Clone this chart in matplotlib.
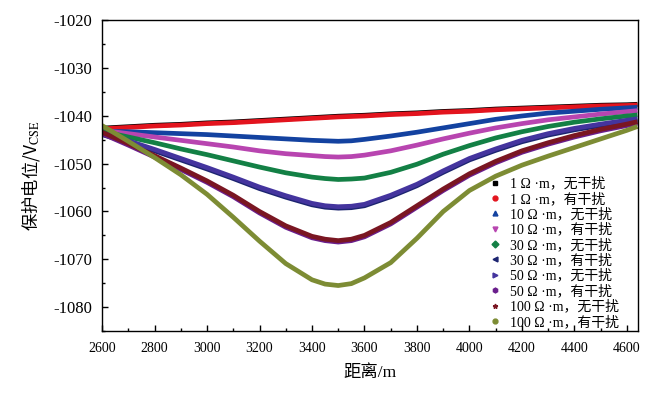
import matplotlib
matplotlib.use("Agg")
import matplotlib.pyplot as plt
import matplotlib.ticker as ticker
from matplotlib.lines import Line2D

plt.rcParams['font.family'] = ['Liberation Serif', 'Noto Sans CJK SC']
plt.rcParams['mathtext.fontset'] = 'stix'
plt.rcParams['axes.unicode_minus'] = False

# distance along pipeline (m)
dist = [2600, 2700, 2800, 2900, 3000, 3100, 3200, 3300, 3400, 3450, 3500, 3550,
        3600, 3700, 3800, 3900, 4000, 4100, 4200, 4300, 4400, 4500, 4600, 4640]

# protection potential (mV, CSE)
r1_none = [-1042.55, -1042.25, -1041.95, -1041.75, -1041.45, -1041.25, -1040.95, -1040.65, -1040.35, -1040.2, -1040.05, -1039.95,
           -1039.85, -1039.55, -1039.35, -1039.05, -1038.85, -1038.55, -1038.35, -1038.15, -1037.95, -1037.75, -1037.65, -1037.55]
r1_intf = [-1042.7, -1042.4, -1042.1, -1041.9, -1041.6, -1041.4, -1041.1, -1040.8, -1040.5, -1040.35, -1040.2, -1040.1,
           -1040.0, -1039.7, -1039.5, -1039.2, -1039.0, -1038.7, -1038.5, -1038.3, -1038.1, -1037.9, -1037.8, -1037.7]
r10_none = [-1043.2, -1043.3, -1043.5, -1043.7, -1043.9, -1044.2, -1044.5, -1044.8, -1045.1, -1045.2, -1045.3, -1045.2,
            -1044.9, -1044.2, -1043.4, -1042.5, -1041.6, -1040.7, -1040.0, -1039.4, -1039.0, -1038.6, -1038.3, -1038.2]
r10_intf = [-1043.0, -1043.7, -1044.4, -1045.1, -1045.8, -1046.5, -1047.3, -1047.9, -1048.3, -1048.5, -1048.6, -1048.5,
            -1048.2, -1047.3, -1046.1, -1044.8, -1043.6, -1042.5, -1041.6, -1040.8, -1040.2, -1039.6, -1039.1, -1038.9]
r30_none = [-1043.2, -1044.4, -1045.6, -1046.9, -1048.1, -1049.4, -1050.7, -1051.9, -1052.8, -1053.1, -1053.3, -1053.2,
            -1053.0, -1051.8, -1050.1, -1048.0, -1046.2, -1044.6, -1043.3, -1042.2, -1041.3, -1040.6, -1040.0, -1039.8]
r30_intf = [-1043.9, -1045.5, -1047.3, -1049.2, -1051.1, -1053.1, -1055.2, -1057.0, -1058.6, -1059.1, -1059.3, -1059.2,
            -1058.8, -1056.9, -1054.6, -1051.8, -1049.2, -1047.2, -1045.4, -1044.0, -1042.9, -1042.0, -1041.2, -1040.9]
r50_none = [-1043.6, -1045.2, -1047.0, -1048.9, -1050.8, -1052.8, -1054.9, -1056.7, -1058.3, -1058.8, -1059.0, -1058.9,
            -1058.5, -1056.6, -1054.3, -1051.5, -1048.9, -1046.9, -1045.1, -1043.7, -1042.6, -1041.7, -1040.9, -1040.6]
r50_intf = [-1043.7, -1046.1, -1048.6, -1051.2, -1053.9, -1056.9, -1060.3, -1063.3, -1065.5, -1066.1, -1066.4, -1066.1,
            -1065.3, -1062.6, -1059.1, -1055.6, -1052.4, -1049.8, -1047.6, -1045.9, -1044.4, -1043.1, -1042.0, -1041.5]
r100_none = [-1043.4, -1045.8, -1048.3, -1050.9, -1053.6, -1056.6, -1060.0, -1063.0, -1065.2, -1065.8, -1066.1, -1065.8,
             -1065.0, -1062.3, -1058.8, -1055.3, -1052.1, -1049.5, -1047.3, -1045.6, -1044.1, -1042.8, -1041.7, -1041.2]
r100_intf = [-1042.0, -1045.3, -1048.7, -1052.3, -1056.4, -1061.2, -1066.2, -1070.9, -1074.3, -1075.2, -1075.5, -1075.1,
             -1073.9, -1070.7, -1065.6, -1060.0, -1055.6, -1052.6, -1050.3, -1048.4, -1046.6, -1044.8, -1043.0, -1042.2]

labels = ["1 Ω ·m，无干扰", "1 Ω ·m，有干扰", "10 Ω ·m，无干扰", "10 Ω ·m，有干扰",
          "30 Ω ·m，无干扰", "30 Ω ·m，有干扰", "50 Ω ·m，无干扰", "50 Ω ·m，有干扰",
          "100 Ω ·m，无干扰", "100 Ω ·m，有干扰"]
series = [r1_none, r1_intf, r10_none, r10_intf, r30_none, r30_intf,
          r50_none, r50_intf, r100_none, r100_intf]
colors = ['#000000', '#e3141e', '#1342a0', '#b845b0', '#138045', '#1c2470',
          '#44349e', '#6a1e8c', '#7a1622', '#7d8c34']
markers = ['s', 'o', '^', 'v', 'D', '<', '>', 'h', '*', 'o']

fig = plt.figure(figsize=(6.54, 3.93), dpi=100)
ax = fig.add_axes([0.156, 0.158, 0.8195, 0.79])

for y, c in zip(series, colors):
    ax.plot(dist, y, color=c, lw=3.4, solid_joinstyle='round', solid_capstyle='butt')

ax.set_xlim(2600, 4642)
ax.set_ylim(-1085, -1020)
ax.xaxis.set_major_locator(ticker.MultipleLocator(200))
ax.xaxis.set_minor_locator(ticker.MultipleLocator(100))
ax.yaxis.set_major_locator(ticker.MultipleLocator(10))
ax.yaxis.set_minor_locator(ticker.MultipleLocator(5))
ax.tick_params(which='both', direction='in', top=False, right=False)
ax.tick_params(which='major', length=4, width=1)
ax.tick_params(which='minor', length=2.5, width=1)
ax.tick_params(axis='x', labelsize=10, pad=8)
ax.tick_params(axis='y', labelsize=12, pad=7)
for s in ax.spines.values():
    s.set_linewidth(1.0)

ax.set_xlabel("距离/m", fontsize=12.5, labelpad=7)
ax.set_ylabel("保护电位/V$_{\\mathrm{CSE}}$", fontsize=12.5, labelpad=8,
              fontfamily='Noto Sans CJK SC')

# legend shows only the markers, as in the original
handles = [Line2D([], [], ls='none', marker=m, color=c, markersize=3.5) for m, c in zip(markers, colors)]
ax.legend(handles, labels, loc='upper left', bbox_to_anchor=(0.735, 0.568),
          bbox_transform=fig.transFigure, frameon=False, fontsize=10,
          handlelength=1.0, handletextpad=0.6, labelspacing=0.11, borderpad=0)

plt.savefig("out.png", dpi=100)
